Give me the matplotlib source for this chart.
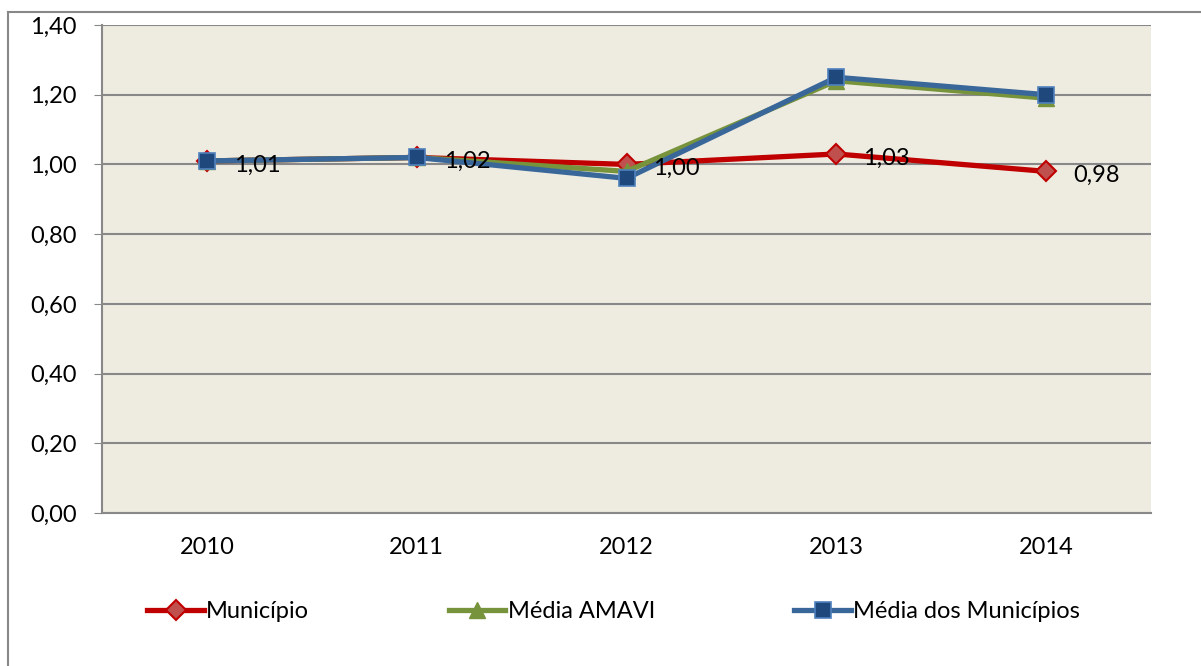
import matplotlib.pyplot as plt
from matplotlib.lines import Line2D

plt.rcParams['font.family'] = ['Lato', 'DejaVu Sans']

anos = ['2010', '2011', '2012', '2013', '2014']
municipio = [1.01, 1.02, 1.00, 1.03, 0.98]
media_amavi = [1.01, 1.02, 0.98, 1.24, 1.19]
media_municipios = [1.01, 1.02, 0.96, 1.25, 1.20]
rotulos = ['1,01', '1,02', '1,00', '1,03', '0,98']
yticks = [0.0, 0.2, 0.4, 0.6, 0.8, 1.0, 1.2, 1.4]

fs = 17

fig = plt.figure(figsize=(12.01, 6.66), dpi=100)
ax = fig.add_axes([102 / 1201, 1 - 513 / 666, 1049 / 1201, 488 / 666])
ax.set_facecolor('#EEECE1')

x = range(len(anos))
ax.plot(x, municipio, color='#C00000', lw=3.8, marker='D', ms=10,
        mfc='#C0504D', mec='#C00000', mew=1.5, label='Município', zorder=3)
ax.plot(x, media_amavi, color='#77933C', lw=3.8, marker='^', ms=11,
        mfc='#77933C', mec='#77933C', label='Média AMAVI', zorder=4)
ax.plot(x, media_municipios, color='#3A679A', lw=3.8, marker='s', ms=11,
        mfc='#1F497D', mec='#4F81BD', mew=1.2, label='Média dos Municípios', zorder=5)

for i, (v, t) in enumerate(zip(municipio, rotulos)):
    ax.annotate(t, (i, v), xytext=(27, -4), textcoords='offset pixels',
                ha='left', va='center', fontsize=fs, zorder=6)

ax.set_xlim(-0.5, 4.5)
ax.set_ylim(0, 1.4)
ax.set_yticks(yticks)
ax.set_yticklabels([f'{v:.2f}'.replace('.', ',') for v in yticks], fontsize=fs)
ax.set_xticks(list(x))
ax.set_xticklabels(anos, fontsize=fs)
ax.tick_params(axis='x', length=0, pad=17)
ax.tick_params(axis='y', length=6, color='#888888', pad=12)
ax.grid(axis='y', color='#888888', lw=1.5)
ax.set_axisbelow(True)
for s in ['top', 'right']:
    ax.spines[s].set_visible(False)
for s in ['left', 'bottom']:
    ax.spines[s].set_color('#888888')
    ax.spines[s].set_linewidth(1.5)

handles, labels = ax.get_legend_handles_labels()
fig.legend(handles, labels, loc='center', bbox_to_anchor=(0.511, 1 - 612 / 666),
           ncol=3, frameon=False, fontsize=fs, handlelength=2.4,
           handletextpad=0.1, columnspacing=5.9)

fig.add_artist(Line2D([8 / 1201, 8 / 1201], [0, 1 - 12 / 666], color='#888888', lw=1.5))
fig.add_artist(Line2D([8 / 1201, 1], [1 - 12 / 666, 1 - 12 / 666], color='#888888', lw=1.5))

fig.savefig('out.png', dpi=100)
